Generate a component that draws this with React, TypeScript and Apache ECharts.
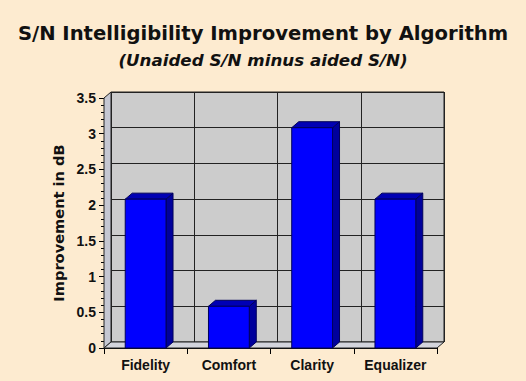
import React, { useEffect, useRef } from "react";
import * as echarts from "echarts";

const categories = ["Fidelity", "Comfort", "Clarity", "Equalizer"];
const improvementDb = [2, 0.5, 3, 2];
const yMin = 0;
const yMax = 3.5;
const yInterval = 0.5;
const titleText = "S/N Intelligibility Improvement by Algorithm";
const subtitleText = "(Unaided S/N minus aided S/N)";
const yAxisName = "Improvement in dB";

const W = 526;
const H = 381;
const DX = 7;
const DY = 6;
const FRONT = { left: 104, top: 98, width: 333, height: 250 };
const BACK = { left: FRONT.left + DX, top: FRONT.top - DY, width: FRONT.width, height: FRONT.height };
const FONT = "'Liberation Sans', Arial, Helvetica, sans-serif";
const WIDE = "'DejaVu Sans', Verdana, sans-serif";

export default function App() {
  const ref = useRef<HTMLDivElement>(null);
  useEffect(() => {
    document.body.style.margin = "0";
    const chart = echarts.init(ref.current!, undefined, { renderer: "svg" });
    const fl = FRONT.left, ft = FRONT.top, fr = FRONT.left + FRONT.width, fb = FRONT.top + FRONT.height;
    const option: any = {
      animation: false,
      backgroundColor: "#FDEBD0",
      title: [
        {
          text: titleText,
          left: "center",
          top: 18,
          textStyle: { fontFamily: WIDE, fontSize: 19.6, fontWeight: "bold", color: "#111" },
        },
        {
          text: subtitleText,
          left: "center",
          top: 46,
          textStyle: { fontFamily: WIDE, fontSize: 16.7, fontWeight: "bold", fontStyle: "italic", color: "#111" },
        },
      ],
      grid: [
        {
          left: BACK.left, top: BACK.top, width: BACK.width, height: BACK.height,
          show: true, backgroundColor: "#CCCCCC", borderColor: "#222", borderWidth: 1,
        },
        { left: FRONT.left, top: FRONT.top, width: FRONT.width, height: FRONT.height },
      ],
      xAxis: [
        {
          gridIndex: 0, type: "category", data: categories,
          axisLine: { show: false }, axisTick: { show: false }, axisLabel: { show: false },
          splitLine: { show: true, lineStyle: { color: "#222", width: 1 } },
        },
        {
          gridIndex: 1, type: "category", data: categories,
          axisLine: { show: true, lineStyle: { color: "#000", width: 1 } },
          axisTick: { show: true, length: 6, lineStyle: { color: "#000" } },
          axisLabel: { margin: 10, fontFamily: FONT, fontSize: 14, fontWeight: "bold", color: "#111" },
          splitLine: { show: false },
        },
      ],
      yAxis: [
        {
          gridIndex: 0, type: "value", min: yMin, max: yMax, interval: yInterval,
          axisLine: { show: false }, axisTick: { show: false }, axisLabel: { show: false },
          splitLine: { show: true, lineStyle: { color: "#222", width: 1 } },
        },
        {
          gridIndex: 1, type: "value", min: yMin, max: yMax, interval: yInterval,
          name: yAxisName, nameLocation: "middle", nameRotate: 90, nameGap: 36,
          nameTextStyle: { fontFamily: WIDE, fontSize: 14.6, fontWeight: "bold", color: "#111" },
          axisLine: { show: true, lineStyle: { color: "#000", width: 1 } },
          axisTick: { show: true, length: 5, lineStyle: { color: "#000" } },
          minorTick: { show: true, splitNumber: 5, length: 3, lineStyle: { color: "#000" } },
          axisLabel: { margin: 8, fontFamily: FONT, fontSize: 14, fontWeight: "bold", color: "#111" },
          splitLine: { show: false },
        },
      ],
      graphic: [
        {
          type: "polygon", z: 1,
          shape: { points: [[fl, ft], [fl + DX, ft - DY], [fl + DX, fb - DY], [fl, fb]] },
          style: { fill: "#C5C7D2", stroke: "#222", lineWidth: 1 },
        },
        {
          type: "polygon", z: 1,
          shape: { points: [[fl, fb], [fl + DX, fb - DY], [fr + DX, fb - DY], [fr, fb]] },
          style: { fill: "#D3D4DC", stroke: "#222", lineWidth: 1 },
        },
      ],
      series: [
        {
          type: "custom",
          xAxisIndex: 1, yAxisIndex: 1, z: 10,
          data: improvementDb.map((v, i) => [i, v]),
          renderItem: (params: any, api: any) => {
            const i = api.value(0);
            const v = api.value(1);
            const base = api.coord([i, 0]);
            const topPt = api.coord([i, v]);
            const bw = api.size([1, 0])[0] * 0.49;
            const xl = base[0] - bw / 2;
            const xr = base[0] + bw / 2;
            const yb = base[1];
            const yt = topPt[1] - DY;
            const stroke = "#00005A";
            return {
              type: "group",
              children: [
                {
                  type: "polygon",
                  shape: { points: [[xr, yt], [xr + DX, yt - DY], [xr + DX, yb - DY], [xr, yb]] },
                  style: { fill: "#00009C", stroke, lineWidth: 1 },
                },
                {
                  type: "polygon",
                  shape: { points: [[xl, yt], [xl + DX, yt - DY], [xr + DX, yt - DY], [xr, yt]] },
                  style: { fill: "#0000B4", stroke, lineWidth: 1 },
                },
                {
                  type: "rect",
                  shape: { x: xl, y: yt, width: bw, height: yb - yt },
                  style: { fill: "#0000FF", stroke, lineWidth: 1 },
                },
              ],
            };
          },
        },
      ],
    };
    chart.setOption(option);
    return () => chart.dispose();
  }, []);
  return <div ref={ref} style={{ width: W, height: H, background: "#FDEBD0" }} />;
}
